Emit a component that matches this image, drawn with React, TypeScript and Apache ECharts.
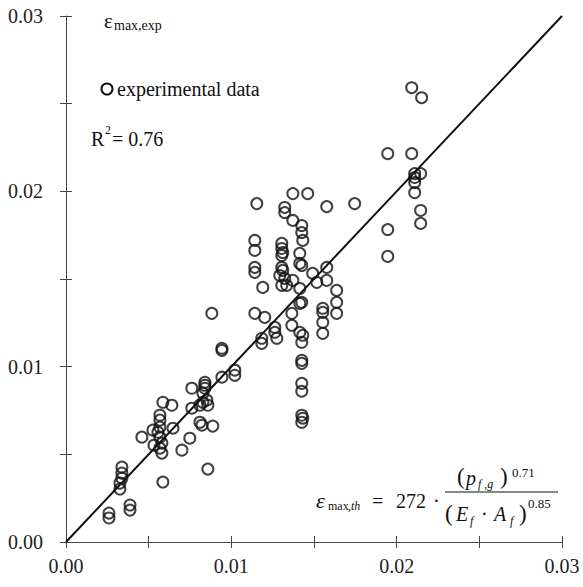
import React, { useEffect, useRef } from "react";
import * as echarts from "echarts";

// experimental data points [epsilon_max,th , epsilon_max,exp]
const expPoints: [number, number][] = [
  [0.0026, 0.00165], [0.0026, 0.00137],
  [0.00387, 0.00211], [0.00387, 0.00182],
  [0.00338, 0.00427], [0.00338, 0.00393], [0.00338, 0.00364], [0.00326, 0.00336], [0.00326, 0.00302],
  [0.00586, 0.00342],
  [0.00459, 0.00598],
  [0.00526, 0.00638], [0.00532, 0.00552],
  [0.00586, 0.00797], [0.0064, 0.0078],
  [0.00568, 0.00723], [0.00568, 0.00695], [0.00568, 0.00655], [0.00556, 0.00626], [0.00568, 0.00598],
  [0.0058, 0.00564], [0.00568, 0.00535], [0.0058, 0.00507],
  [0.00647, 0.00649],
  [0.00701, 0.00524],
  [0.00749, 0.00592],
  [0.00858, 0.00416],
  [0.0081, 0.00683], [0.00822, 0.00666], [0.00888, 0.00661],
  [0.0084, 0.00911], [0.0084, 0.00894], [0.0084, 0.00877], [0.00828, 0.00849], [0.00852, 0.00809],
  [0.00828, 0.00797], [0.00858, 0.0078], [0.0081, 0.0078],
  [0.00761, 0.00877], [0.00761, 0.00763],
  [0.00943, 0.0094], [0.01021, 0.0098], [0.01021, 0.00951],
  [0.00943, 0.01105], [0.00943, 0.01093],
  [0.00882, 0.01304],
  [0.01142, 0.01304], [0.01202, 0.01281],
  [0.01184, 0.01162], [0.01184, 0.01133],
  [0.01263, 0.01224], [0.01263, 0.01196], [0.01275, 0.01162],
  [0.01154, 0.0193],
  [0.01142, 0.0172], [0.01142, 0.01663], [0.01142, 0.01566], [0.01142, 0.01538],
  [0.0119, 0.01452],
  [0.01323, 0.01908], [0.01323, 0.01879],
  [0.01305, 0.01703], [0.01305, 0.01674], [0.01311, 0.01651], [0.01305, 0.01634],
  [0.01305, 0.01566], [0.01311, 0.01549], [0.01293, 0.0152], [0.01323, 0.01503], [0.01305, 0.01464],
  [0.01335, 0.01464], [0.01372, 0.01492],
  [0.01372, 0.01987], [0.01462, 0.01987],
  [0.01372, 0.01834], [0.01426, 0.01805], [0.01426, 0.01765], [0.01432, 0.0172],
  [0.01414, 0.01646], [0.01414, 0.01589], [0.01426, 0.01577],
  [0.01414, 0.01446], [0.01414, 0.01361], [0.01426, 0.01367],
  [0.01366, 0.01304], [0.01366, 0.01236],
  [0.01414, 0.01196], [0.01432, 0.01179], [0.01426, 0.01139],
  [0.01426, 0.01036], [0.01426, 0.01019],
  [0.01426, 0.00905], [0.01426, 0.0086],
  [0.01426, 0.00723], [0.01432, 0.00706], [0.01426, 0.00683],
  [0.01492, 0.01532], [0.01517, 0.01481], [0.01577, 0.01566], [0.01577, 0.01492],
  [0.01577, 0.01913],
  [0.01637, 0.01435], [0.01637, 0.01367], [0.01637, 0.01304],
  [0.01553, 0.01333], [0.01553, 0.0131], [0.01553, 0.01253], [0.01553, 0.0119],
  [0.01746, 0.0193],
  [0.01946, 0.02215], [0.01946, 0.01782], [0.01946, 0.01629],
  [0.02091, 0.02591], [0.02151, 0.02534],
  [0.02091, 0.02215],
  [0.02109, 0.02101], [0.02145, 0.02101], [0.02109, 0.02079], [0.02109, 0.0205], [0.02109, 0.01993],
  [0.02145, 0.01891], [0.02145, 0.01817],
];

// 1:1 reference line
const equalityLine: [number, number][] = [
  [0, 0],
  [0.03, 0.03],
];

const axisMin = 0;
const axisMax = 0.03;
const tickStep = 0.005;
const labelStep = 0.01;

const FONT = "Liberation Serif";
const INK = "#111";

function fmtTick(v: number): string {
  const k = v / labelStep;
  return Math.abs(k - Math.round(k)) < 1e-6 ? v.toFixed(2) : "";
}

function txt(x: number, y: number, text: string, size: number, italic = false, extra: any = {}) {
  return {
    type: "text",
    x,
    y,
    silent: true,
    style: {
      text,
      fontFamily: FONT,
      fontSize: size,
      fontStyle: italic ? "italic" : "normal",
      fill: INK,
      align: "left",
      verticalAlign: "middle",
      ...extra,
    },
  };
}

export default function App() {
  const ref = useRef<HTMLDivElement>(null);

  useEffect(() => {
    if (!ref.current) return;
    const chart = echarts.init(ref.current, null, { renderer: "svg" });

    const axisLineStyle = { color: "#444", width: 1 };
    const baseAxis = {
      type: "value" as const,
      min: axisMin,
      max: axisMax,
      interval: tickStep,
      splitLine: { show: false },
    };

    chart.setOption({
      animation: false,
      backgroundColor: "#fff",
      grid: { left: 66, right: 21, top: 16, bottom: 45, outerBoundsMode: "none" },
      xAxis: [
        {
          ...baseAxis,
          position: "bottom",
          axisLine: { show: true, onZero: false, lineStyle: axisLineStyle },
          axisTick: { show: true, inside: false, length: 6, lineStyle: axisLineStyle },
          axisLabel: { formatter: fmtTick, fontFamily: FONT, fontSize: 20, color: "#222", margin: 14 },
        },
        {
          ...baseAxis,
          position: "bottom",
          axisLine: { show: false, onZero: false },
          axisTick: { show: true, inside: true, length: 6, lineStyle: axisLineStyle },
          axisLabel: { show: false },
        },
      ],
      yAxis: [
        {
          ...baseAxis,
          position: "left",
          axisLine: { show: true, onZero: false, lineStyle: axisLineStyle },
          axisTick: { show: true, inside: false, length: 6, lineStyle: axisLineStyle },
          axisLabel: { formatter: fmtTick, fontFamily: FONT, fontSize: 20, color: "#222", margin: 23 },
        },
        {
          ...baseAxis,
          position: "left",
          axisLine: { show: false, onZero: false },
          axisTick: { show: true, inside: true, length: 6, lineStyle: axisLineStyle },
          axisLabel: { show: false },
        },
      ],
      series: [
        {
          type: "line",
          data: equalityLine,
          showSymbol: false,
          symbol: "none",
          lineStyle: { color: INK, width: 2 },
          silent: true,
          z: 1,
        },
        {
          type: "scatter",
          data: expPoints,
          symbol: "circle",
          symbolSize: 11,
          itemStyle: { color: "rgba(0,0,0,0)", borderColor: INK, borderWidth: 2 },
          z: 2,
        },
      ],
      graphic: [
        // y-axis title
        txt(104, 21, "ε", 21),
        txt(114, 25, "max,exp", 14),
        // legend
        {
          type: "circle",
          shape: { cx: 107, cy: 89, r: 5.5 },
          silent: true,
          style: { fill: "none", stroke: INK, lineWidth: 2 },
        },
        txt(117, 89, "experimental data", 20),
        // R^2
        txt(91, 139, "R", 20),
        txt(105, 130, "2", 12),
        txt(112, 139, "= 0.76", 20),
        // formula left part
        txt(316, 500, "ε", 22, true),
        txt(328, 506, "max", 12),
        txt(348, 506, ",th", 12, true),
        txt(372, 501, "=", 20),
        txt(396, 501, "272", 20),
        txt(433, 501, "·", 20),
        // fraction bar
        {
          type: "line",
          shape: { x1: 445, y1: 492, x2: 558, y2: 492 },
          silent: true,
          style: { stroke: INK, lineWidth: 1.2 },
        },
        // numerator
        txt(457, 476, "(", 23),
        txt(466, 478, "p", 20, true),
        txt(478, 484, "f ,g", 12, true),
        txt(500, 476, ")", 23),
        txt(512, 472, "0.71", 13),
        // denominator
        txt(445, 513, "(", 23),
        txt(456, 514, "E", 20, true),
        txt(470, 521, "f", 12, true),
        txt(481, 514, "·", 20),
        txt(494, 514, "A", 20, true),
        txt(510, 521, "f", 12, true),
        txt(519, 513, ")", 23),
        txt(528, 503, "0.85", 13),
      ],
    });

    return () => chart.dispose();
  }, []);

  return (
    <div
      ref={ref}
      style={{ position: "fixed", left: 0, top: 0, width: 583, height: 587, background: "#fff" }}
    />
  );
}
